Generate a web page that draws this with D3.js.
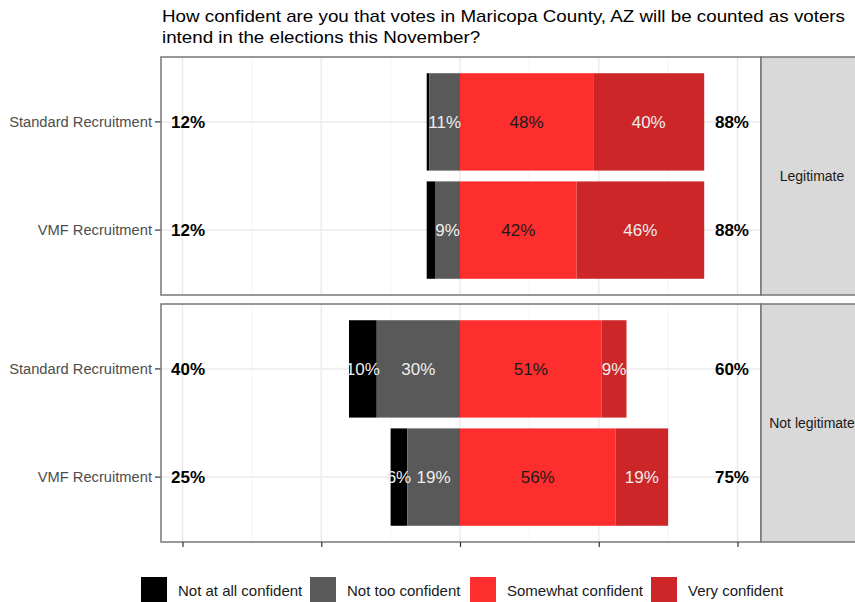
<!DOCTYPE html>
<html>
<head>
<meta charset="utf-8">
<script src="https://cdn.jsdelivr.net/npm/d3@7"></script>
<style>
  body { margin: 0; background: #fff; }
  svg { display: block; font-family: "Liberation Sans", Arial, sans-serif; }
</style>
</head>
<body>
<div id="chart"></div>
<script>
// data
const panels = ["Legitimate", "Not legitimate"];
const groups = ["Standard Recruitment", "VMF Recruitment"];
const levels = ["Not at all confident", "Not too confident", "Somewhat confident", "Very confident"];
// order: Legitimate/Standard, Legitimate/VMF, Not legitimate/Standard, Not legitimate/VMF
const notAtAll = [1, 3, 10, 6];
const notToo = [11, 9, 30, 19];
const somewhat = [48, 42, 51, 56];
const very = [40, 46, 9, 19];
const xTicks = [-100, -50, 0, 50, 100];
const titleLines = [
  "How confident are you that votes in Maricopa County, AZ will be counted as voters",
  "intend in the elections this November?"
];

const colors = ["#000000", "#595959", "#FF2E2E", "#CC2629"];
const textColors = ["#eeeeee", "#eeeeee", "#1a1a1a", "#eeeeee"];

let width = 855, height = 602;
let panelLeft = 161, panelRight = 761;
let panelTops = [57, 304], panelHeight = 238;

let svg = d3.select("#chart")
  .append("svg")
  .attr("width", width)
  .attr("height", height);

let xScale = d3.scaleLinear()
  .domain([-100, 100])
  .range([460 - 277.5, 460 + 277.5]);

// title (the reference font runs a bit wider, so stretch to its width)
let titles = svg.selectAll(".title").data(titleLines).enter().append("text")
  .attr("class", "title")
  .attr("x", 162).attr("y", (d, i) => 22 + i * 21)
  .style("font-size", "17px").style("fill", "#000")
  .text(d => d);
let natural = titles.nodes()[0].getComputedTextLength();
let stretch = 683 / natural;
titles.each(function () {
  let w = this.getComputedTextLength();
  d3.select(this).attr("textLength", w * stretch).attr("lengthAdjust", "spacingAndGlyphs");
});

// build rows
let rows = [];
panels.forEach((p, pi) => {
  groups.forEach((g, gi) => {
    let i = pi * groups.length + gi;
    rows.push({
      panel: p, group: g,
      vals: [notAtAll[i], notToo[i], somewhat[i], very[i]]
    });
  });
});

panels.forEach((p, pi) => {
  let top = panelTops[pi];
  let g = svg.append("g");

  let yScale = d3.scaleBand()
    .domain(groups)
    .range([top, top + panelHeight])
    .paddingInner(0.1)
    .paddingOuter(0.15);

  // minor grid
  let minor = d3.range(xTicks.length - 1).map(k => (xTicks[k] + xTicks[k + 1]) / 2);
  g.selectAll(".minor").data(minor).enter().append("line")
    .attr("x1", d => xScale(d)).attr("x2", d => xScale(d))
    .attr("y1", top).attr("y2", top + panelHeight)
    .style("stroke", "#f4f4f4").style("stroke-width", 1);
  // major grid
  g.selectAll(".major").data(xTicks).enter().append("line")
    .attr("x1", d => xScale(d)).attr("x2", d => xScale(d))
    .attr("y1", top).attr("y2", top + panelHeight)
    .style("stroke", "#ebebeb").style("stroke-width", 1.5);
  g.selectAll(".hgrid").data(groups).enter().append("line")
    .attr("x1", panelLeft).attr("x2", panelRight)
    .attr("y1", d => yScale(d) + yScale.bandwidth() / 2)
    .attr("y2", d => yScale(d) + yScale.bandwidth() / 2)
    .style("stroke", "#ebebeb").style("stroke-width", 1.5);

  let panelRows = rows.filter(r => r.panel === p);

  panelRows.forEach(r => {
    let v = r.vals;
    // segments: [start, end]
    let segs = [
      [-(v[1] + v[0]), -v[1]],
      [-v[1], 0],
      [0, v[2]],
      [v[2], v[2] + v[3]]
    ];
    let y0 = yScale(r.group), bw = yScale.bandwidth(), yc = y0 + bw / 2;
    segs.forEach((s, k) => {
      g.append("rect")
        .attr("x", xScale(s[0]))
        .attr("width", xScale(s[1]) - xScale(s[0]))
        .attr("y", y0).attr("height", bw)
        .style("fill", colors[k]);
    });
    segs.forEach((s, k) => {
      if (v[k] < 5) return;
      g.append("text")
        .attr("x", xScale((s[0] + s[1]) / 2)).attr("y", yc)
        .attr("dy", "0.36em")
        .attr("text-anchor", "middle")
        .style("font-size", "17px")
        .style("fill", textColors[k])
        .text(v[k] + "%");
    });
    // totals
    g.append("text")
      .attr("x", xScale(-98)).attr("y", yc).attr("dy", "0.36em")
      .attr("text-anchor", "middle")
      .style("font-size", "17px").style("font-weight", "bold")
      .text((v[0] + v[1]) + "%");
    g.append("text")
      .attr("x", xScale(98)).attr("y", yc).attr("dy", "0.36em")
      .attr("text-anchor", "middle")
      .style("font-size", "17px").style("font-weight", "bold")
      .text((v[2] + v[3]) + "%");

    // y axis label and tick
    g.append("line")
      .attr("x1", panelLeft - 6).attr("x2", panelLeft)
      .attr("y1", yc).attr("y2", yc)
      .style("stroke", "#333").style("stroke-width", 1.2);
    g.append("text")
      .attr("x", panelLeft - 9).attr("y", yc).attr("dy", "0.36em")
      .attr("text-anchor", "end")
      .style("font-size", "14.7px").style("fill", "#4d4d4d")
      .text(r.group);
  });

  // panel border
  g.append("rect")
    .attr("x", panelLeft).attr("y", top)
    .attr("width", panelRight - panelLeft).attr("height", panelHeight)
    .style("fill", "none").style("stroke", "#777").style("stroke-width", 1.5);

  // strip
  g.append("rect")
    .attr("x", panelRight).attr("y", top)
    .attr("width", 102).attr("height", panelHeight)
    .style("fill", "#d9d9d9").style("stroke", "#777").style("stroke-width", 1.5);
  g.append("text")
    .attr("x", panelRight + 51).attr("y", top + panelHeight / 2).attr("dy", "0.36em")
    .attr("text-anchor", "middle")
    .style("font-size", "14px").style("fill", "#1a1a1a")
    .text(p);
});

// x axis ticks (no labels)
let xAxis = d3.axisBottom(xScale).tickValues(xTicks).tickFormat("").tickSizeOuter(0).tickSize(5);
let ax = svg.append("g")
  .attr("transform", "translate(0," + (panelTops[1] + panelHeight) + ")")
  .call(xAxis);
ax.select(".domain").remove();
ax.selectAll("line").style("stroke", "#333").style("stroke-width", 1.2);

// legend
let legendX = [141, 310, 470, 651];
let leg = svg.append("g");
levels.forEach((l, k) => {
  leg.append("rect")
    .attr("x", legendX[k]).attr("y", 577)
    .attr("width", 26).attr("height", 30)
    .style("fill", colors[k]);
  leg.append("text")
    .attr("x", legendX[k] + 37).attr("y", 591).attr("dy", "0.36em")
    .style("font-size", "15px").style("fill", "#1a1a1a")
    .text(l);
});
</script>
</body>
</html>
